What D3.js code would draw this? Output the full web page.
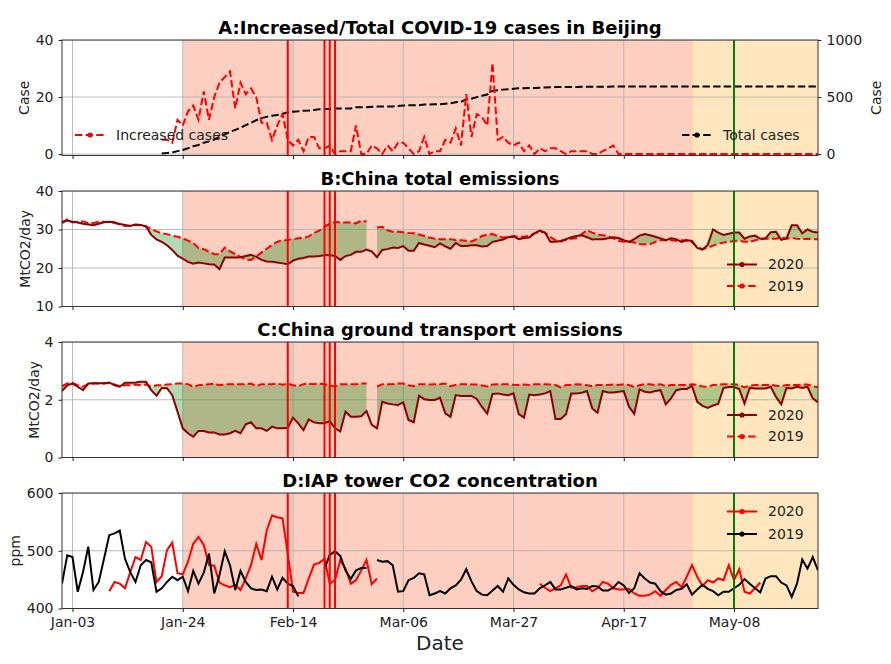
<!DOCTYPE html>
<html><head><meta charset="utf-8">
<script src="https://cdn.jsdelivr.net/npm/d3@7"></script>
<style>
body{margin:0;background:#fff;}
svg text{font-family:"DejaVu Sans",sans-serif;}
</style></head><body>
<svg id="chart" width="891" height="664"></svg>
<script>
// ---------------- DATA ----------------
const seriesStart = "2020-01-01";   // B, C, D daily series start (to 2020-05-24)
const casesStart = "2020-01-20";    // A series start
const xDomain = ["2020-01-01", "2020-05-24"];
const xTickDates = ["2020-01-03","2020-01-24","2020-02-14","2020-03-06","2020-03-27","2020-04-17","2020-05-08"];
const xTickLabels = ["Jan-03","Jan-24","Feb-14","Mar-06","Mar-27","Apr-17","May-08"];
const lockdownSpan = ["2020-01-24","2020-04-30"];
const reopenSpan = ["2020-04-30","2020-05-24"];
const eventDates = ["2020-02-13","2020-02-20","2020-02-21","2020-02-22"];
const markerDate = "2020-05-08";

const increasedCases = [5,5,4,12,10,15,17,12,22,12,20,25,27,29,16,25,21,23,20,11,11,5,10,14,5,3,5,1,6,6,2,2,3,0,1,1,1,10,0,0,
 3,2,0,3,1,4,4,2,0,1,6,0,1,1,5,4,9,3,21,6,14,13,10,32,5,6,4,3,4,1,3,0,2,1,2,2,1,0,1,1,1,1,0,0,1,2,3,
 0,0,0,0,0,0,0,0,0,0,0,0,0,0,0,0,0,0,0,0,0,0,0,0,0,0,0,0,0,0,0,0,0,0,0,0,0,0,0];
const totalCases = [5,10,14,26,36,51,68,80,100,111,128,150,172,195,212,230,253,274,297,315,326,337,342,352,366,372,375,380,381,387,393,395,396,399,399,400,400,410,410,411,
 414,416,417,418,418,422,426,428,428,429,435,435,436,437,442,446,455,458,479,485,499,512,522,554,559,565,569,572,576,577,580,580,582,583,585,587,588,588,589,589,590,590,590,590,590,591,593,
 593,593,593,593,593,593,593,593,593,593,593,593,593,593,593,593,593,593,593,593,593,593,593,593,593,593,593,593,593,593,593,593,593,593,593,593,593,593,593];

const totalEmis2020 = [32,32.3,32,31.8,31.5,31.3,31.1,31.5,31.9,32,31.9,31.4,31.2,30.9,31.3,31.2,30.8,
 28.6,27.4,26.8,25.9,24.7,23.2,22.4,21.6,21.1,21.4,21.2,21,20.9,19.7,22.7,22.7,22.7,22.8,23.1,23.4,22.9,22.1,21.7,
 21.6,21.4,21.2,21,21.9,22.4,22.6,23,23,23.1,23.3,23.3,23.1,22.1,23.1,23.4,24.2,24.2,24.8,24.3,
 22.8,24.7,24.9,25.3,25.2,25.7,24.5,24.5,26.5,26.1,25.8,25.4,26.4,25.6,25.0,
 26.5,25.7,25.7,25.9,25.9,25.6,25.7,26.8,27.1,27.4,28,28.2,27.5,27.8,27.9,29,29.7,29.2,26.8,26.8,27,27.5,28,28.3,28.5,28,27.4,27.5,27.5,27.7,28,27.8,27.2,26.8,27.5,28.4,28.8,28.5,28.1,27.7,27.2,27.7,27.5,26.8,27.2,27,25.2,24.8,26,30,29.2,28.6,28.9,29.2,29.2,27.6,28.2,28.4,27.6,27.7,29.3,29.4,27.3,27.7,31.1,31.1,29,30,29.4,29.2];
const totalEmis2019 = [31.6,32.6,31.8,32,32.1,31.7,31.7,32,32,31.9,31.7,31.3,30.9,31,31.2,31.1,30.8,
 30.1,29.5,29,28.8,28.4,28.1,27.7,27.1,26.5,25.2,24.9,24.2,23.6,23.6,25.3,24.3,23.6,22.9,22.2,22.1,23,24,25,
 26,26.8,27.2,27.3,27.5,27.7,27.8,28.2,29.1,29.7,30.7,31.5,32,31.8,31.8,31.8,31.6,32.3,32.1,null,
 30.5,30.7,29.8,29.4,29.4,29.3,29.1,29,28.7,28.3,27.9,27.6,27.5,27.5,27.5,
 27.2,27.2,27.1,26.9,27.5,28.3,28.7,28.8,28.3,27.9,28,28.3,28.1,28.1,28.4,29,29.4,29.2,28.1,27.2,26.9,27.3,27.6,27.8,28.8,29.8,29.2,28.7,28.5,28.3,27.7,27,26.8,26.8,26.6,26.2,26.2,26.2,26.8,27.2,27.2,27.2,27.1,27.2,27.2,26.7,25.4,24.9,25.3,25.8,26.3,26.6,26.8,27,27.1,26.8,26.8,27.2,27.4,27.6,27.6,27.6,27.9,27.6,27.8,27.6,27.5,27.6,27.5,27.5];

const transport2020 = [2.3,2.5,2.56,2.45,2.33,2.56,2.57,2.57,2.57,2.6,2.5,2.45,2.59,2.59,2.6,2.62,2.62,
 2.33,2.14,2.41,2.4,2.16,1.59,1.01,0.84,0.72,0.92,0.92,0.87,0.87,0.8,0.8,0.84,0.92,0.84,1.15,1.22,1.01,1.01,0.92,
 1.07,1.01,1.01,1.03,1.38,1.18,0.95,1.32,1.22,1.19,1.19,1.26,1.01,0.9,1.59,1.41,1.41,1.43,1.61,1.13,
 1.01,1.93,1.87,1.84,1.82,1.91,1.3,1.22,2.14,2.02,1.99,1.99,2.07,1.53,1.41,
 2.16,2.13,2.13,2.13,2.03,1.75,1.52,2.2,2.22,2.18,2.16,2.22,1.5,1.38,2.18,2.16,2.18,2.22,2.3,1.33,1.33,1.5,2.22,2.22,2.24,2.3,1.7,1.55,2.3,2.25,2.25,2.28,2.3,1.76,1.51,2.36,2.28,2.25,2.3,2.33,1.84,2.05,2.33,2.37,2.37,2.48,1.93,1.79,1.72,1.8,1.86,2.41,2.44,2.44,2.37,1.87,2.41,2.39,2.39,2.39,2.45,2.1,1.84,2.41,2.39,2.45,2.41,2.45,2.05,1.91];
const transport2019 = [2.47,2.56,2.59,2.5,2.45,2.54,2.56,2.56,2.56,2.58,2.53,2.47,2.5,2.5,2.53,2.5,2.53,
 2.45,2.5,2.5,2.53,2.54,2.56,2.56,2.54,2.45,2.5,2.52,2.54,2.56,2.5,2.54,2.54,2.54,2.54,2.54,2.56,2.47,2.54,2.54,
 2.54,2.56,2.52,2.56,2.5,2.47,2.54,2.56,2.54,2.56,2.54,2.5,2.45,2.54,2.54,2.54,2.54,2.56,2.56,null,
 2.45,2.54,2.54,2.54,2.56,2.56,2.5,2.47,2.54,2.54,2.53,2.54,2.54,2.56,2.47,
 2.51,2.54,2.54,2.53,2.53,2.49,2.46,2.53,2.54,2.54,2.54,2.52,2.51,2.53,2.51,2.54,2.54,2.54,2.53,2.51,2.43,2.51,2.51,2.54,2.53,2.5,2.47,2.51,2.51,2.51,2.53,2.51,2.54,2.51,2.44,2.5,2.54,2.54,2.51,2.54,2.47,2.51,2.51,2.51,2.51,2.54,2.52,2.46,2.45,2.51,2.52,2.54,2.54,2.54,2.51,2.43,2.49,2.51,2.51,2.51,2.53,2.48,2.47,2.51,2.51,2.51,2.53,2.53,2.47,2.43];

const co2_2020 = [null,null,null,null,null,null,null,null,null,
 430,446,443,435,463,489,484,515,507,446,456,501,514,461,459,481,512,524,510,475,474,445,440,437,441,432,452,475,512,484,535,561,558,556,495,429,427,427,452,476,479,486,443,449,484,469,443,449,466,484,442,452,
 null,null,null,null,null,null,null,null,null,null,null,null,null,null,null,null,null,null,null,null,null,null,null,null,null,null,null,null,null,null,
 443,436,430,435,440,459,436,437,439,439,430,435,446,443,435,433,433,434,426,422,422,424,430,422,432,441,446,437,455,475,455,439,449,445,452,449,475,449,468,429,426,435,445,
 null,null,null,null,null,null,null,null,null,null,null];
const co2_2019 = [443,492,489,429,463,507,432,446,486,527,530,535,486,463,446,475,484,480,429,435,446,455,449,455,430,465,443,462,495,426,458,499,475,432,465,446,435,432,433,430,455,433,453,443,439,421,
 null,null,null,null,
 469,493,499,491,466,451,466,470,470,
 null,
 484,481,482,475,429,430,449,453,461,459,423,426,430,426,435,
 440,450,468,447,430,424,423,431,439,429,452,441,433,428,426,426,435,440,446,433,433,436,439,433,435,434,439,438,431,431,436,446,440,427,435,461,452,445,443,430,424,426,432,434,442,424,433,441,434,430,423,429,429,435,441,451,443,435,428,452,456,456,445,440,420,443,485,469,489,466];

// ---------------- CHART ----------------
const svg = d3.select("#chart");
const parse = d3.utcParse("%Y-%m-%d");
const L = 62, R = 818, PH = 115.5;
const x = d3.scaleUtc().domain(xDomain.map(parse)).range([L, R]);
const datesFrom = (start, arr) => arr.map((v, i) => ({date: d3.utcDay.offset(parse(start), i), v}));
const numFmt = d => String(d);

const RED = "#ff0000", DARKRED = "#8b0000";
const DASH = "7.4,3.2";

const panels = [
  {top: 40, title: "A:Increased/Total COVID-19 cases in Beijing", yDomain: [-0.5, 40], yTicks: [0, 20, 40], ylabel: "Case", ylabelX: 24},
  {top: 191, title: "B:China total emissions", yDomain: [10, 40], yTicks: [10, 20, 30, 40], ylabel: "MtCO2/day", ylabelX: 25},
  {top: 342, title: "C:China ground transport emissions", yDomain: [0, 4], yTicks: [0, 2, 4], ylabel: "MtCO2/day", ylabelX: 34},
  {top: 493, title: "D:IAP tower CO2 concentration", yDomain: [400, 600], yTicks: [400, 500, 600], ylabel: "ppm", ylabelX: 15}
];

function styleAxis(g) {
  g.select(".domain").remove();
  g.selectAll(".tick line").attr("stroke", "#222").attr("stroke-width", 1);
  g.selectAll(".tick text").attr("fill", "#222").style("font-size", "14px").style("font-family", "DejaVu Sans");
}

function legend(g, x0, y0, label, color, dashed) {
  g.append("line").attr("x1", x0).attr("x2", x0 + 30).attr("y1", y0).attr("y2", y0)
    .attr("stroke", color).attr("stroke-width", 2).attr("stroke-dasharray", dashed ? DASH : null);
  g.append("circle").attr("cx", x0 + 15).attr("cy", y0).attr("r", 2.6).attr("fill", color);
  g.append("text").attr("x", x0 + 41).attr("y", y0).attr("dy", "0.35em")
    .style("font-size", "14px").attr("fill", "#222").text(label);
}

panels.forEach((p, pi) => {
  const top = p.top, bot = p.top + PH;
  const y = d3.scaleLinear().domain(p.yDomain).range([bot, top]);
  const g = svg.append("g");
  const clipId = "clip" + pi;
  svg.append("clipPath").attr("id", clipId).append("rect").attr("x", L).attr("y", top).attr("width", R - L).attr("height", PH);
  const inner = g.append("g").attr("clip-path", `url(#${clipId})`);

  // spans
  inner.append("rect").attr("x", x(parse(lockdownSpan[0]))).attr("y", top)
    .attr("width", x(parse(lockdownSpan[1])) - x(parse(lockdownSpan[0]))).attr("height", PH).attr("fill", "#fdcfc0");
  inner.append("rect").attr("x", x(parse(reopenSpan[0]))).attr("y", top)
    .attr("width", x(parse(reopenSpan[1])) - x(parse(reopenSpan[0]))).attr("height", PH).attr("fill", "#ffe6bf");
  inner.append("line").attr("x1", x(parse(reopenSpan[0]))).attr("x2", x(parse(reopenSpan[0])))
    .attr("y1", top).attr("y2", bot).attr("stroke", "#ffd39a").attr("stroke-width", 1.5);

  // grid
  inner.selectAll(".vg").data(xTickDates).enter().append("line")
    .attr("x1", d => x(parse(d))).attr("x2", d => x(parse(d))).attr("y1", top).attr("y2", bot)
    .attr("stroke", "#b0b0b0").attr("stroke-width", 1).attr("opacity", 0.85);
  inner.selectAll(".hg").data(p.yTicks).enter().append("line")
    .attr("x1", L).attr("x2", R).attr("y1", d => y(d)).attr("y2", d => y(d))
    .attr("stroke", "#b0b0b0").attr("stroke-width", 1).attr("opacity", 0.85);

  const lineGen = (ys) => d3.line().defined(d => d.v != null).x(d => x(d.date)).y(d => ys(d.v));

  if (pi === 0) {
    const yR = d3.scaleLinear().domain([-12.5, 1000]).range([bot, top]);
    const inc = datesFrom(casesStart, increasedCases);
    const tot = datesFrom(casesStart, totalCases);
    inner.append("path").datum(tot).attr("d", lineGen(yR)).attr("fill", "none")
      .attr("stroke", "#000").attr("stroke-width", 2).attr("stroke-dasharray", DASH);
    inner.append("path").datum(inc).attr("d", lineGen(y)).attr("fill", "none")
      .attr("stroke", RED).attr("stroke-width", 2).attr("stroke-dasharray", DASH);
    const ra = g.append("g").attr("transform", `translate(${R},0)`)
      .call(d3.axisRight(yR).tickValues([0, 500, 1000]).tickFormat(numFmt).tickSize(3.5).tickPadding(5));
    styleAxis(ra);
    g.append("text").attr("transform", `translate(876,${(top + bot) / 2}) rotate(-90)`)
      .attr("text-anchor", "middle").attr("dy", "0.35em").style("font-size", "14px").attr("fill", "#222").text("Case");
  } else if (pi === 1 || pi === 2) {
    const a = pi === 1 ? totalEmis2020 : transport2020;
    const b = pi === 1 ? totalEmis2019 : transport2019;
    const s20 = datesFrom(seriesStart, a), s19 = datesFrom(seriesStart, b);
    const both = s20.map((d, i) => ({date: d.date, a: d.v, b: s19[i].v}));
    inner.append("path").datum(both)
      .attr("d", d3.area().defined(d => d.a != null && d.b != null).x(d => x(d.date)).y0(d => y(d.a)).y1(d => y(d.b)))
      .attr("fill", "green").attr("fill-opacity", 0.3);
    inner.append("path").datum(s19).attr("d", lineGen(y)).attr("fill", "none")
      .attr("stroke", RED).attr("stroke-width", 2).attr("stroke-dasharray", DASH);
    inner.append("path").datum(s20).attr("d", lineGen(y)).attr("fill", "none")
      .attr("stroke", DARKRED).attr("stroke-width", 2);
  } else {
    const s20 = datesFrom(seriesStart, co2_2020), s19 = datesFrom(seriesStart, co2_2019);
    inner.append("path").datum(s20).attr("d", lineGen(y)).attr("fill", "none")
      .attr("stroke", RED).attr("stroke-width", 2);
    inner.append("path").datum(s19).attr("d", lineGen(y)).attr("fill", "none")
      .attr("stroke", "#000").attr("stroke-width", 2);
  }

  // event lines
  inner.selectAll(".ev").data(eventDates).enter().append("line")
    .attr("x1", d => x(parse(d))).attr("x2", d => x(parse(d))).attr("y1", top).attr("y2", bot)
    .attr("stroke", RED).attr("stroke-width", 2);
  inner.append("line").attr("x1", x(parse(markerDate))).attr("x2", x(parse(markerDate)))
    .attr("y1", top).attr("y2", bot).attr("stroke", "#008000").attr("stroke-width", 2);

  // frame
  g.append("rect").attr("x", L).attr("y", top).attr("width", R - L).attr("height", PH)
    .attr("fill", "none").attr("stroke", "#333").attr("stroke-width", 1);

  // axes
  const la = g.append("g").attr("transform", `translate(${L},0)`)
    .call(d3.axisLeft(y).tickValues(p.yTicks).tickFormat(numFmt).tickSize(3.5).tickPadding(5));
  styleAxis(la);
  const ba = g.append("g").attr("transform", `translate(0,${bot})`)
    .call(d3.axisBottom(x).tickValues(xTickDates.map(parse)).tickSize(3.5).tickPadding(5)
      .tickFormat((d, i) => pi === 3 ? xTickLabels[i] : ""));
  styleAxis(ba);

  g.append("text").attr("transform", `translate(${p.ylabelX},${(top + bot) / 2}) rotate(-90)`)
    .attr("text-anchor", "middle").attr("dy", "0.35em").style("font-size", "14px").attr("fill", "#222").text(p.ylabel);

  g.append("text").attr("x", (L + R) / 2).attr("y", top - 6).attr("text-anchor", "middle")
    .style("font-size", "18px").style("font-weight", "bold").attr("fill", "#000").text(p.title);

  // legends
  if (pi === 0) {
    legend(g, 75, 135, "Increased cases", RED, true);
    legend(g, 682, 135, "Total cases", "#000", true);
  } else if (pi === 1) {
    legend(g, 727, 264.5, "2020", DARKRED, false);
    legend(g, 727, 286, "2019", RED, true);
  } else if (pi === 2) {
    legend(g, 727, 415, "2020", DARKRED, false);
    legend(g, 727, 436.5, "2019", RED, true);
  } else {
    legend(g, 727, 511.5, "2020", RED, false);
    legend(g, 727, 534, "2019", "#000", false);
  }
});

svg.append("text").attr("x", (L + R) / 2).attr("y", 650).attr("text-anchor", "middle")
  .style("font-size", "20px").attr("fill", "#222").text("Date");
</script>
</body></html>
